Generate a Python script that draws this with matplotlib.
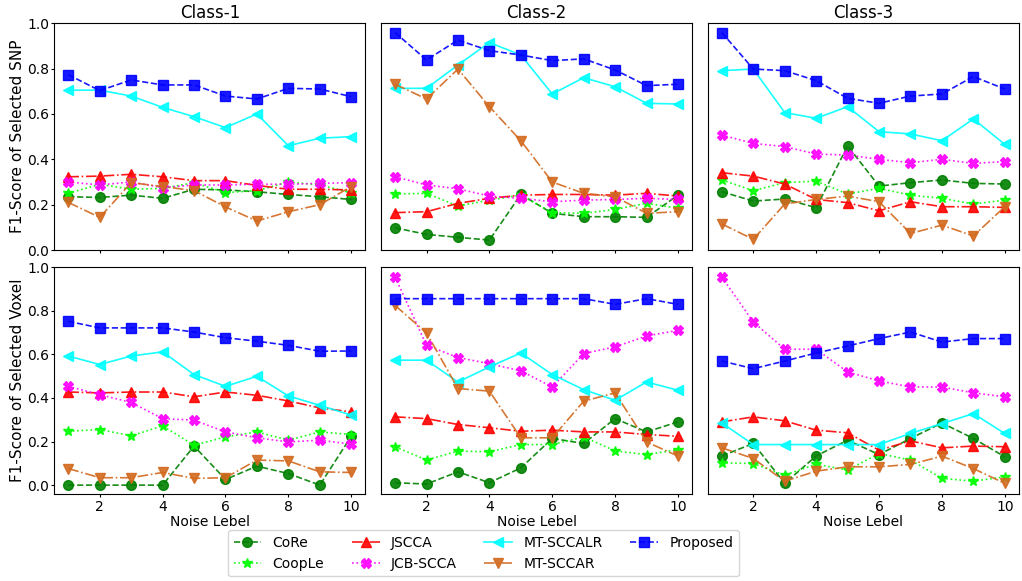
import numpy as np
import matplotlib.pyplot as plt

# Noise levels
x = np.arange(1, 11)

# F1-score of selected SNP (top row)
snp_core = [[0.235, 0.232, 0.242, 0.228, 0.268, 0.265, 0.257, 0.245, 0.235, 0.223],
            [0.098, 0.069, 0.056, 0.044, 0.245, 0.162, 0.147, 0.147, 0.144, 0.242],
            [0.257, 0.216, 0.225, 0.187, 0.459, 0.282, 0.297, 0.309, 0.294, 0.291]]
snp_coople = [[0.25, 0.29, 0.268, 0.272, 0.297, 0.253, 0.262, 0.30, 0.287, 0.253],
              [0.247, 0.25, 0.194, 0.22, 0.242, 0.165, 0.162, 0.179, 0.206, 0.184],
              [0.309, 0.262, 0.297, 0.304, 0.247, 0.272, 0.242, 0.228, 0.203, 0.22]]
snp_jscca = [[0.323, 0.326, 0.334, 0.323, 0.306, 0.306, 0.285, 0.268, 0.268, 0.265],
             [0.165, 0.169, 0.206, 0.228, 0.242, 0.245, 0.245, 0.242, 0.25, 0.238],
             [0.341, 0.326, 0.291, 0.223, 0.209, 0.173, 0.213, 0.191, 0.191, 0.188]]
snp_jcb = [[0.30, 0.287, 0.30, 0.275, 0.287, 0.287, 0.29, 0.29, 0.294, 0.297],
           [0.323, 0.287, 0.27, 0.238, 0.228, 0.213, 0.22, 0.223, 0.228, 0.223],
           [0.507, 0.47, 0.456, 0.423, 0.419, 0.40, 0.385, 0.40, 0.382, 0.39]]
snp_lr = [[0.705, 0.705, 0.679, 0.629, 0.588, 0.54, 0.60, 0.46, 0.493, 0.50],
          [0.713, 0.713, 0.816, 0.915, 0.86, 0.688, 0.76, 0.72, 0.647, 0.644],
          [0.791, 0.798, 0.606, 0.581, 0.632, 0.522, 0.512, 0.482, 0.578, 0.466]]
snp_r = [[0.21, 0.144, 0.297, 0.28, 0.262, 0.19, 0.128, 0.169, 0.20, 0.28],
         [0.731, 0.666, 0.798, 0.632, 0.482, 0.30, 0.25, 0.235, 0.162, 0.169],
         [0.115, 0.047, 0.203, 0.223, 0.238, 0.213, 0.073, 0.11, 0.062, 0.191]]
snp_prop = [[0.773, 0.703, 0.75, 0.728, 0.728, 0.679, 0.666, 0.713, 0.71, 0.676],
            [0.959, 0.838, 0.926, 0.879, 0.86, 0.835, 0.843, 0.794, 0.725, 0.731],
            [0.959, 0.798, 0.791, 0.747, 0.669, 0.647, 0.679, 0.688, 0.765, 0.71]]

# F1-score of selected voxel (bottom row)
vox_core = [[0.0, 0.0, 0.0, 0.0, 0.179, 0.026, 0.087, 0.053, 0.0, 0.224],
            [0.011, 0.005, 0.061, 0.011, 0.079, 0.214, 0.191, 0.305, 0.244, 0.29],
            [0.134, 0.191, 0.008, 0.134, 0.206, 0.14, 0.214, 0.285, 0.214, 0.13]]
vox_coople = [[0.247, 0.255, 0.226, 0.272, 0.183, 0.221, 0.244, 0.206, 0.244, 0.232],
              [0.176, 0.115, 0.156, 0.153, 0.186, 0.186, 0.221, 0.157, 0.14, 0.163],
              [0.102, 0.099, 0.046, 0.096, 0.069, 0.145, 0.115, 0.031, 0.018, 0.038]]
vox_jscca = [[0.427, 0.423, 0.427, 0.427, 0.405, 0.427, 0.412, 0.386, 0.354, 0.336],
             [0.313, 0.305, 0.278, 0.263, 0.247, 0.252, 0.244, 0.244, 0.232, 0.224],
             [0.29, 0.313, 0.295, 0.252, 0.24, 0.16, 0.203, 0.171, 0.179, 0.176]]
vox_jcb = [[0.453, 0.415, 0.379, 0.305, 0.298, 0.244, 0.217, 0.198, 0.206, 0.188],
           [0.954, 0.641, 0.585, 0.557, 0.524, 0.45, 0.603, 0.634, 0.684, 0.71],
           [0.954, 0.748, 0.623, 0.623, 0.519, 0.478, 0.45, 0.45, 0.423, 0.405]]
vox_lr = [[0.592, 0.553, 0.592, 0.611, 0.507, 0.453, 0.499, 0.409, 0.366, 0.321],
          [0.573, 0.573, 0.473, 0.542, 0.606, 0.507, 0.438, 0.389, 0.473, 0.435],
          [0.285, 0.186, 0.186, 0.186, 0.186, 0.186, 0.237, 0.282, 0.328, 0.237]]
vox_r = [[0.076, 0.034, 0.034, 0.058, 0.031, 0.034, 0.115, 0.111, 0.061, 0.058],
         [0.824, 0.698, 0.443, 0.431, 0.217, 0.217, 0.385, 0.423, 0.198, 0.133],
         [0.171, 0.122, 0.018, 0.064, 0.084, 0.084, 0.095, 0.133, 0.076, 0.008]]
vox_prop = [[0.751, 0.721, 0.721, 0.721, 0.702, 0.676, 0.66, 0.641, 0.614, 0.615],
            [0.855, 0.855, 0.855, 0.855, 0.855, 0.855, 0.855, 0.829, 0.855, 0.829],
            [0.569, 0.534, 0.569, 0.606, 0.638, 0.672, 0.702, 0.656, 0.672, 0.672]]

methods = ["CoRe", "CoopLe", "JSCCA", "JCB-SCCA", "MT-SCCALR", "MT-SCCAR", "Proposed"]
snp = [snp_core, snp_coople, snp_jscca, snp_jcb, snp_lr, snp_r, snp_prop]
vox = [vox_core, vox_coople, vox_jscca, vox_jcb, vox_lr, vox_r, vox_prop]

styles = [("green", "--", "o"),
          ("lime", ":", "*"),
          ("red", "-.", "^"),
          ("magenta", ":", "X"),
          ("cyan", "-", "<"),
          ("chocolate", "-.", "v"),
          ("blue", "--", "s")]

fig, axes = plt.subplots(2, 3, figsize=(10.22, 5.81), dpi=100, sharex=True)
plt.subplots_adjust(left=0.053, right=0.997, top=0.960, bottom=0.150,
                    wspace=0.05, hspace=0.075)

for row, data in enumerate([snp, vox]):
    for col in range(3):
        ax = axes[row, col]
        for m in range(len(methods)):
            c, ls, mk = styles[m]
            ax.plot(x, data[m][col], color=c, linestyle=ls, marker=mk,
                    markersize=7, linewidth=1.2, label=methods[m], alpha=0.9)
        if row == 0:
            ax.set_ylim(0, 1.0)
            ax.set_title("Class-%d" % (col + 1), fontsize=12, pad=4)
        else:
            ax.set_ylim(-0.04, 1.0)
            ax.set_xlabel("Noise Lebel", fontsize=10, labelpad=1)
        ax.set_yticks([0, 0.2, 0.4, 0.6, 0.8, 1.0])
        ax.set_xticks([2, 4, 6, 8, 10])
        ax.tick_params(labelsize=10, length=2.5)
        ax.tick_params(axis="y", pad=1)
        ax.tick_params(axis="x", pad=2)
        if col > 0:
            ax.set_yticklabels([])
            ax.tick_params(axis="y", length=0)

axes[0, 0].set_ylabel("F1-Score of Selected SNP", fontsize=11, labelpad=2)
axes[1, 0].set_ylabel("F1-Score of Selected Voxel", fontsize=11, labelpad=2)

handles, labels = axes[0, 0].get_legend_handles_labels()
fig.legend(handles, labels, loc="lower center", ncol=4, fontsize=10,
           bbox_to_anchor=(0.473, -0.004), columnspacing=2.0)

plt.savefig("out.png")
